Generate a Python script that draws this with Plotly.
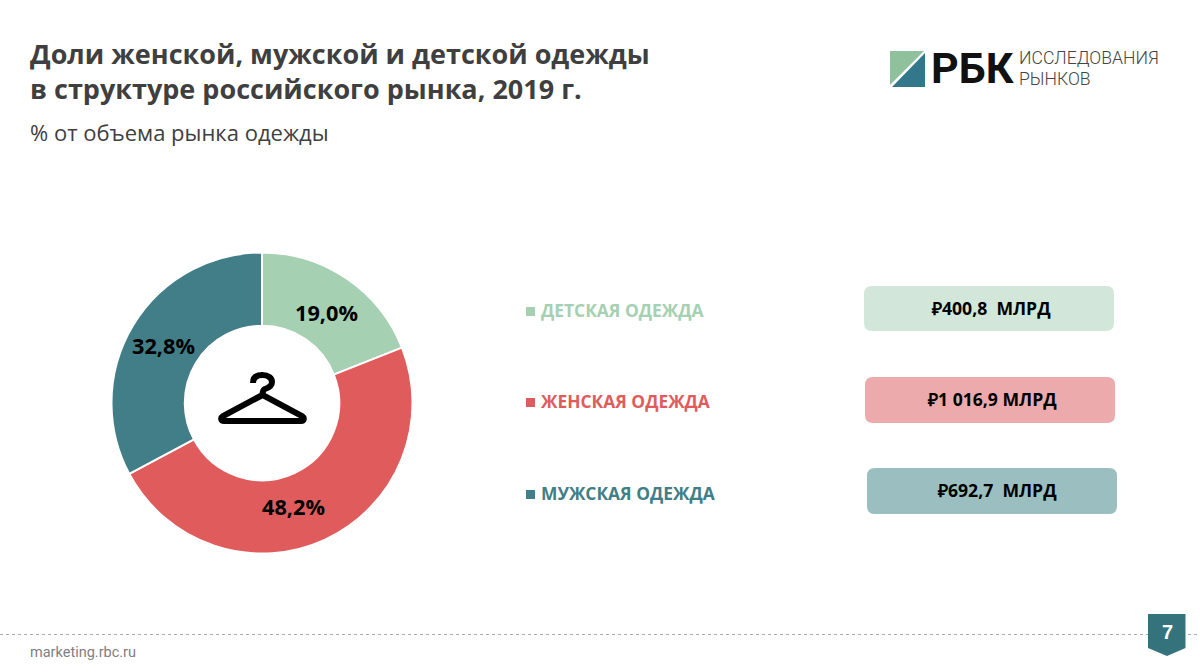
import plotly.graph_objects as go

W, H = 1200, 672

# данные
categories = ['ДЕТСКАЯ ОДЕЖДА', 'ЖЕНСКАЯ ОДЕЖДА', 'МУЖСКАЯ ОДЕЖДА']
shares = [19.0, 48.2, 32.8]
volumes = ['₽400,8  МЛРД', '₽1 016,9 МЛРД', '₽692,7  МЛРД']
colors = ['#a5d0b1', '#e05c5c', '#417e87']
card_colors = ['#d2e7d9', '#edaaac', '#9bbfc1']


def px(x):
    return x / W


def py(y):
    return 1 - y / H


def note(x, y, text, size, color, bold=False, anchor='left', family='Open Sans', weight=None):
    fig.add_annotation(
        x=px(x), y=py(y), xref='paper', yref='paper', text=text, showarrow=False,
        xanchor=anchor, yanchor='middle', align=anchor, borderpad=0,
        font=dict(family=family, size=size, color=color,
                  weight=weight if weight else (700 if bold else 400)),
    )


def path(d, **kw):
    fig.add_shape(type='path', path=d, xref='x', yref='y', **kw)


def rounded(x0, y0, x1, y1, r):
    return (f'M{x0 + r},{y0} L{x1 - r},{y0} Q{x1},{y0} {x1},{y0 + r} L{x1},{y1 - r} '
            f'Q{x1},{y1} {x1 - r},{y1} L{x0 + r},{y1} Q{x0},{y1} {x0},{y1 - r} '
            f'L{x0},{y0 + r} Q{x0},{y0} {x0 + r},{y0} Z')


fig = go.Figure()

# кольцевая диаграмма
fig.add_trace(go.Pie(
    labels=categories, values=shares, hole=0.513, sort=False, direction='clockwise',
    rotation=0, textinfo='none', showlegend=False,
    marker=dict(colors=colors, line=dict(color='white', width=2)),
    domain=dict(x=[px(111.5), px(412.5)], y=[py(553.5), py(252.5)]),
))

fig.update_layout(
    width=W, height=H, margin=dict(l=0, r=0, t=0, b=0),
    paper_bgcolor='white', plot_bgcolor='white', showlegend=False,
    xaxis=dict(range=[0, W], visible=False, domain=[0, 1], fixedrange=True),
    yaxis=dict(range=[H, 0], visible=False, domain=[0, 1], fixedrange=True),
)
# пустой след, чтобы оси для фигур существовали
fig.add_trace(go.Scatter(x=[], y=[], xaxis='x', yaxis='y', showlegend=False))

# заголовок
note(29, 70.5, 'Доли женской, мужской и детской одежды<br>в структуре российского рынка, 2019 г.',
     27, '#3f3f3f', bold=True)
note(29, 132, '% от объема рынка одежды', 22, '#404040')

# подписи долей
label_pos = [(326, 312), (293, 506), (163, 346)]
for (x, y), v in zip(label_pos, shares):
    note(x, y, f'{v:.1f}%'.replace('.', ','), 21.7, 'black', bold=True, anchor='center')

# вешалка
path('M253,383 C253,377 257,375 262.5,375 C268,375 272,378 272,382 '
     'C272,386 268,388 265,389 C263,390 262.5,392 262.5,395 '
     'L302,416 C305,418 304,421 301,421 L224,421 C221,421 220,418 223,416 L262.5,395',
     line=dict(color='black', width=6), fillcolor='rgba(0,0,0,0)')

# легенда и плашки
legend_y = [311, 402, 494]
cards = [(864, 286, 1114, 331), (865, 377, 1115, 423), (867, 468, 1117, 514)]
card_text_x = [991, 992, 997]
for i, name in enumerate(categories):
    y = legend_y[i]
    fig.add_shape(type='rect', x0=526, x1=535, y0=y - 4, y1=y + 5, xref='x', yref='y',
                  fillcolor=colors[i], line_width=0)
    note(540, y - 1, name, 17.4, colors[i], bold=True)
    x0, y0, x1, y1 = cards[i]
    path(rounded(x0, y0, x1, y1, 8), fillcolor=card_colors[i], line_width=0)
    note(card_text_x[i], (y0 + y1) / 2 - 1, volumes[i], 17.6, 'black', bold=True, anchor='center')

# логотип
path('M890,51 L924,51 L890,85 Z', fillcolor='#8fc29c', line_width=0)
path('M925,53 L925,87 L892,87 Z', fillcolor='#33788a', line_width=0)
note(930, 68, 'РБК', 43, '#111111', bold=True, family='Roboto')
note(1018, 58, 'ИССЛЕДОВАНИЯ', 17.6, '#444444', family='Roboto', weight=300)
note(1018, 79, 'РЫНКОВ', 17.6, '#444444', family='Roboto', weight=300)

# подвал
fig.add_shape(type='line', x0=0, x1=1200, y0=634.5, y1=634.5, xref='x', yref='y',
              line=dict(color='#aaaaaa', width=1, dash='dot'))
path('M1148,614 L1185.5,614 L1185.5,648 L1167,656 L1148,648 Z', fillcolor='#34737c', line_width=0)
note(1167, 632, '7', 20, 'white', bold=True, anchor='center', family='Liberation Sans')
note(29, 652, 'marketing.rbc.ru', 14.5, '#808080', family='Roboto')

fig.write_html('out.html', config=dict(displayModeBar=False),
               post_script="document.body.style.margin='0';")
